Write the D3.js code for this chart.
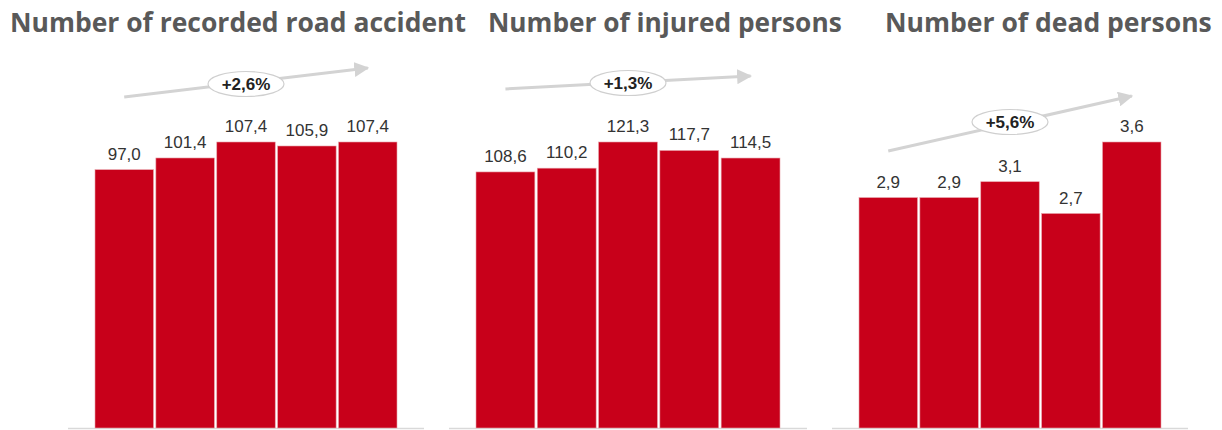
<!DOCTYPE html>
<html><head><meta charset="utf-8">
<script src="https://cdn.jsdelivr.net/npm/d3@7"></script>
<style>body{margin:0;background:#fff}svg{display:block}</style>
</head><body>
<svg id="c" width="1222" height="430"></svg>
<script>
const categories = ["1","2","3","4","5"];
const accidents = [97.0, 101.4, 107.4, 105.9, 107.4];
const injured = [108.6, 110.2, 121.3, 117.7, 114.5];
const dead = [2.9, 2.9, 3.1, 2.7, 3.6];
const titles = ["Number of recorded road accident", "Number of injured persons", "Number of dead persons"];
const changes = ["+2,6%", "+1,3%", "+5,6%"];

const panels = [
  {values: accidents, title: titles[0], change: changes[0], x0: 95, x1: 397, tx: 10, tw: 456, a0: 97, a1: 68, ey: 84},
  {values: injured,   title: titles[1], change: changes[1], x0: 476, x1: 780, tx: 488, tw: 354, a0: 89, a1: 76, ey: 83},
  {values: dead,      title: titles[2], change: changes[2], x0: 859, x1: 1161, tx: 885, tw: 327, a0: 151, a1: 96, ey: 122}
];
const svg = d3.select("#c");
const baseY = 428, topY = 142;
const fmt = v => v.toFixed(1).replace(".", ",");

svg.append("defs").append("marker").attr("id","ah").attr("viewBox","0 0 10 10")
  .attr("refX",9).attr("refY",5).attr("markerWidth",5).attr("markerHeight",5)
  .attr("markerUnits","strokeWidth").attr("orient","auto")
  .append("path").attr("d","M0,0L10,5L0,10z").attr("fill","#d3d3d3");

panels.forEach(p => {
  const x = d3.scaleBand().domain(categories).range([p.x0, p.x1]).paddingInner(0.04);
  const y = d3.scaleLinear().domain([0, d3.max(p.values)]).range([baseY, topY]);
  const g = svg.append("g");
  const t = g.append("text").attr("x", p.tx).attr("y", 32).text(p.title)
    .attr("font-family","'Open Sans'").attr("font-weight","bold").attr("font-size",24).attr("fill","#595959");
  const w = t.node().getComputedTextLength();
  t.attr("font-size", 24 * p.tw / w);
  g.append("line").attr("x1", p.x0 - 27).attr("x2", p.x1 + 27).attr("y1", baseY + 0.5).attr("y2", baseY + 0.5)
    .attr("stroke","#d9d9d9").attr("stroke-width",1.5);
  g.selectAll("rect").data(p.values).join("rect")
    .attr("x", (d,i) => x(categories[i])).attr("width", x.bandwidth())
    .attr("y", d => y(d)).attr("height", d => baseY - y(d))
    .attr("fill","#c8001a").attr("stroke","#e8a0a8").attr("stroke-width",0.6);
  g.selectAll("text.v").data(p.values).join("text").attr("class","v")
    .attr("x", (d,i) => x(categories[i]) + x.bandwidth()/2).attr("y", d => y(d) - 10)
    .attr("text-anchor","middle").attr("font-family","'Liberation Sans', Arial").attr("font-size",17)
    .attr("fill","#333").text(fmt);
  const xs = x(categories[0]) + x.bandwidth()/2, xe = x(categories[4]) + x.bandwidth()/2;
  g.append("line").attr("x1", xs).attr("y1", p.a0).attr("x2", xe).attr("y2", p.a1)
    .attr("stroke","#d3d3d3").attr("stroke-width",3).attr("marker-end","url(#ah)");
  const ex = (xs + xe) / 2;
  g.append("ellipse").attr("cx", ex).attr("cy", p.ey).attr("rx", 38).attr("ry", 12.5)
    .attr("fill","#fff").attr("stroke","#cfcfcf").attr("stroke-width",1.2);
  g.append("text").attr("x", ex).attr("y", p.ey + 6).attr("text-anchor","middle")
    .attr("font-family","'Liberation Sans', Arial").attr("font-weight","bold").attr("font-size",17)
    .attr("fill","#222").text(p.change);
});
</script>
</body></html>
